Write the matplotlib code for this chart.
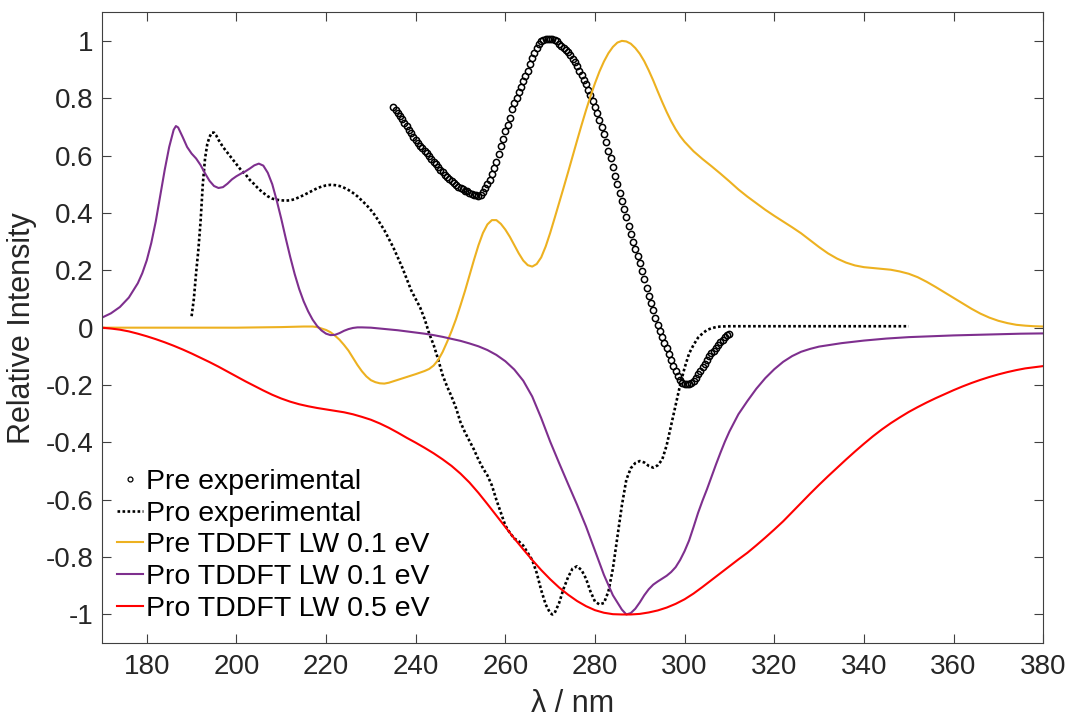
import numpy as np
import matplotlib
matplotlib.use('Agg')
import matplotlib.pyplot as plt
from matplotlib.ticker import FuncFormatter

plt.rcParams['font.family'] = ['Liberation Sans', 'DejaVu Sans']
plt.rcParams['axes.unicode_minus'] = False

# Pre experimental (open circles)
pre_exp_x = np.arange(235.0, 310.01, 0.5)
pre_exp_y = [
    0.770, 0.758, 0.748, 0.738, 0.726, 0.714, 0.702, 0.690, 0.678, 0.666,
    0.656, 0.645, 0.634, 0.626, 0.617, 0.608, 0.598, 0.588, 0.578, 0.569,
    0.560, 0.551, 0.542, 0.534, 0.525, 0.517, 0.510, 0.503, 0.497, 0.491,
    0.486, 0.482, 0.478, 0.475, 0.471, 0.467, 0.463, 0.461, 0.460, 0.463,
    0.474, 0.488, 0.502, 0.515, 0.535, 0.556, 0.578, 0.604, 0.632, 0.658,
    0.684, 0.708, 0.732, 0.764, 0.783, 0.800, 0.821, 0.840, 0.860, 0.876,
    0.895, 0.918, 0.940, 0.958, 0.975, 0.988, 0.998, 1.004, 1.006, 1.007,
    1.006, 1.005, 1.003, 0.998, 0.990, 0.982, 0.975, 0.968, 0.960, 0.951,
    0.938, 0.925, 0.912, 0.896, 0.880, 0.864, 0.848, 0.830, 0.810, 0.790,
    0.770, 0.748, 0.725, 0.700, 0.674, 0.646, 0.617, 0.590, 0.560, 0.530,
    0.500, 0.470, 0.442, 0.414, 0.386, 0.356, 0.328, 0.300, 0.275, 0.250,
    0.224, 0.196, 0.168, 0.140, 0.112, 0.085, 0.060, 0.035, 0.010, -0.012,
    -0.032, -0.052, -0.072, -0.092, -0.112, -0.132, -0.150, -0.168, -0.182, -0.192,
    -0.196, -0.198, -0.197, -0.192, -0.185, -0.175, -0.163, -0.150, -0.138, -0.126,
    -0.113, -0.100, -0.090, -0.080, -0.070, -0.060, -0.050, -0.042, -0.034, -0.027,
    -0.022,
]

# Pro experimental (dotted line)
pro_exp_x = [190.0, 190.5, 191.0, 191.5, 192.0, 192.5, 193.0, 193.5, 194.0, 194.5,
             195.0, 195.5, 196, 197, 198, 199, 200, 201, 202, 203, 204, 205, 206,
             207, 208, 209, 210, 211, 212, 213, 214, 215, 216, 217, 218, 219, 220,
             221, 222, 223, 224, 225, 226, 227, 228, 229, 230, 231, 232, 233, 234,
             235, 236, 237, 238, 239, 240, 241, 242, 243, 244, 245, 246, 247, 248,
             249, 250, 251, 252, 253, 254, 255, 256, 257, 258, 259, 260, 261, 262,
             263, 264, 265, 266, 267, 268, 269, 270, 270.5, 271, 272, 273, 274, 275,
             276, 277, 278, 279, 280, 281, 282, 283, 284, 285, 286, 287, 288, 289,
             290, 291, 292, 293, 294, 295, 296, 297, 298, 299, 300, 301, 302, 303,
             304, 305, 306, 307, 308, 310, 320, 330, 340, 350]
pro_exp_y = [0.04, 0.10, 0.19, 0.27, 0.37, 0.50, 0.59, 0.64, 0.665, 0.68,
             0.68, 0.67, 0.655, 0.63, 0.61, 0.59, 0.57, 0.55, 0.535, 0.515, 0.50, 0.483, 0.47,
             0.458, 0.45, 0.446, 0.444, 0.443, 0.444, 0.448, 0.455, 0.462, 0.47, 0.478, 0.486, 0.492, 0.496,
             0.498, 0.497, 0.494, 0.488, 0.48, 0.47, 0.458, 0.443, 0.428, 0.41, 0.39, 0.365, 0.34, 0.31,
             0.28, 0.245, 0.21, 0.17, 0.13, 0.10, 0.07, 0.03, -0.02, -0.06, -0.11, -0.165, -0.205, -0.24,
             -0.28, -0.33, -0.365, -0.395, -0.425, -0.46, -0.49, -0.515, -0.55, -0.60, -0.645, -0.69, -0.715, -0.735,
             -0.745, -0.76, -0.785, -0.81, -0.855, -0.915, -0.965, -0.995, -1.0, -0.995, -0.96, -0.91, -0.87, -0.84,
             -0.832, -0.845, -0.875, -0.92, -0.955, -0.965, -0.96, -0.92, -0.84, -0.73, -0.62, -0.53, -0.49, -0.472,
             -0.465, -0.47, -0.482, -0.488, -0.48, -0.46, -0.41, -0.34, -0.27, -0.20, -0.14, -0.09, -0.06, -0.035,
             -0.02, -0.008, -0.002, 0.002, 0.004, 0.005, 0.005, 0.005, 0.005, 0.005]

# Pre TDDFT LW 0.1 eV
pre_td_x = [170, 180, 190, 200, 210, 215, 217, 218, 219, 220, 221, 222, 223, 224, 225,
            226, 227, 228, 229, 230, 231, 232, 233, 234, 235, 236, 238, 240, 242, 243,
            244, 245, 246, 247, 248, 249, 250, 251, 252, 253, 254, 255, 256, 257, 258,
            259, 260, 261, 262, 263, 264, 265, 266, 267, 268, 269, 270, 271, 272, 273,
            274, 275, 276, 277, 278, 279, 280, 281, 282, 283, 284, 285, 286, 287, 288,
            289, 290, 291, 292, 293, 294, 295, 296, 297, 298, 299, 300, 302, 304, 306,
            308, 310, 312, 314, 316, 318, 320, 322, 324, 326, 328, 330, 332, 334, 336,
            338, 340, 342, 344, 346, 348, 350, 352, 354, 356, 358, 360, 362, 364, 366,
            368, 370, 372, 374, 376, 378, 380]
pre_td_y = [0.0, 0.0, 0.0, 0.0, 0.002, 0.004, 0.004, 0.002, -0.003, -0.008, -0.016, -0.028, -0.042, -0.06, -0.08,
            -0.105, -0.13, -0.152, -0.17, -0.183, -0.19, -0.194, -0.195, -0.192, -0.187, -0.182, -0.172, -0.162, -0.151, -0.144,
            -0.132, -0.113, -0.085, -0.05, -0.012, 0.03, 0.078, 0.128, 0.182, 0.236, 0.287, 0.33, 0.36, 0.375, 0.375,
            0.362, 0.342, 0.317, 0.288, 0.259, 0.234, 0.218, 0.213, 0.222, 0.245, 0.283, 0.33, 0.382, 0.435, 0.488,
            0.542, 0.597, 0.652, 0.706, 0.758, 0.807, 0.852, 0.893, 0.928, 0.957, 0.979, 0.994, 1.0, 0.998, 0.99,
            0.975, 0.955, 0.929, 0.897, 0.862, 0.824, 0.787, 0.752, 0.72, 0.692, 0.668, 0.648, 0.615, 0.588, 0.563,
            0.537, 0.51, 0.482, 0.457, 0.434, 0.411, 0.39, 0.37, 0.35, 0.329, 0.305, 0.281, 0.259, 0.241, 0.227,
            0.217, 0.211, 0.208, 0.205, 0.202, 0.196, 0.188, 0.176, 0.16, 0.142, 0.123, 0.104, 0.085, 0.066, 0.049,
            0.035, 0.024, 0.016, 0.01, 0.007, 0.005, 0.004]

# Pro TDDFT LW 0.1 eV
pro_td1_x = [170, 172, 174, 176, 178, 179, 180, 181, 182, 183, 184, 185, 186, 186.5, 187,
             188, 189, 190, 191, 192, 193, 194, 195, 196, 197, 198, 199, 200, 201, 202,
             203, 204, 205, 206, 207, 208, 209, 210, 211, 212, 213, 214, 215, 216, 217,
             218, 219, 220, 221, 222, 223, 224, 225, 226, 227, 228, 230, 232, 234, 236,
             238, 240, 242, 244, 246, 248, 250, 252, 254, 256, 258, 260, 262, 264, 266,
             268, 270, 272, 274, 276, 278, 280, 282, 284, 286, 287, 288, 289, 290, 291,
             292, 293, 294, 295, 296, 297, 298, 299, 300, 301, 302, 303, 304, 305, 306,
             307, 308, 309, 310, 312, 314, 316, 318, 320, 322, 324, 326, 328, 330, 335,
             340, 345, 350, 355, 360, 365, 370, 375, 380]
pro_td1_y = [0.035, 0.05, 0.072, 0.105, 0.155, 0.19, 0.235, 0.295, 0.37, 0.46, 0.55, 0.63, 0.69, 0.703, 0.698,
             0.665, 0.63, 0.607, 0.59, 0.567, 0.538, 0.512, 0.494, 0.487, 0.49, 0.502, 0.517, 0.528, 0.537, 0.545,
             0.555, 0.566, 0.572, 0.565, 0.54, 0.50, 0.443, 0.38, 0.312, 0.247, 0.187, 0.135, 0.092, 0.057, 0.028,
             0.006, -0.01, -0.021, -0.026, -0.025, -0.019, -0.011, -0.005, -0.001, 0.001, 0.001, 0.0, -0.003, -0.006, -0.009,
             -0.013, -0.017, -0.021, -0.026, -0.032, -0.039, -0.046, -0.055, -0.065, -0.078, -0.095, -0.117, -0.146, -0.185, -0.24,
             -0.315, -0.397, -0.472, -0.545, -0.617, -0.693, -0.778, -0.862, -0.933, -0.983, -1.0, -0.995, -0.98, -0.958, -0.933,
             -0.912, -0.896, -0.885, -0.875, -0.865, -0.852, -0.835, -0.81, -0.779, -0.742, -0.695, -0.646, -0.603, -0.563, -0.52,
             -0.477, -0.436, -0.397, -0.362, -0.302, -0.256, -0.213, -0.176, -0.145, -0.119, -0.099, -0.084, -0.074, -0.066, -0.054,
             -0.045, -0.038, -0.033, -0.03, -0.027, -0.025, -0.023, -0.021, -0.02]

# Pro TDDFT LW 0.5 eV
pro_td5_x = [170, 172, 174, 176, 178, 180, 182, 184, 186, 188, 190, 192, 194, 196, 198,
             200, 202, 204, 206, 208, 210, 212, 214, 216, 218, 220, 222, 224, 226, 228,
             230, 232, 234, 236, 238, 240, 242, 244, 246, 248, 250, 252, 254, 256, 258,
             260, 262, 264, 266, 268, 270, 272, 274, 276, 278, 280, 282, 284, 286, 288,
             290, 292, 294, 296, 298, 300, 302, 304, 306, 308, 310, 312, 314, 316, 318,
             320, 322, 324, 326, 328, 330, 332, 334, 336, 338, 340, 342, 344, 346, 348,
             350, 352, 354, 356, 358, 360, 362, 364, 366, 368, 370, 372, 374, 376, 378, 380]
pro_td5_y = [0.0, -0.003, -0.007, -0.013, -0.021, -0.03, -0.04, -0.051, -0.063, -0.076, -0.09, -0.105, -0.12, -0.136, -0.153,
             -0.17, -0.187, -0.203, -0.219, -0.234, -0.247, -0.258, -0.267, -0.274, -0.28, -0.285, -0.29, -0.295, -0.302, -0.311,
             -0.321, -0.334, -0.349, -0.366, -0.384, -0.401, -0.419, -0.438, -0.459, -0.482, -0.509, -0.54, -0.576, -0.615, -0.655,
             -0.695, -0.735, -0.773, -0.81, -0.845, -0.877, -0.906, -0.931, -0.953, -0.971, -0.985, -0.994, -0.999, -1.0, -1.0,
             -0.998, -0.993, -0.986, -0.976, -0.963, -0.947, -0.927, -0.904, -0.88, -0.856, -0.832, -0.808, -0.785, -0.759, -0.732,
             -0.704, -0.675, -0.643, -0.611, -0.579, -0.548, -0.518, -0.489, -0.46, -0.432, -0.405, -0.379, -0.355, -0.333, -0.313,
             -0.294, -0.277, -0.261, -0.246, -0.232, -0.218, -0.205, -0.193, -0.182, -0.172, -0.163, -0.155, -0.148, -0.142, -0.138, -0.134]

fig = plt.figure(figsize=(10.71, 7.17), dpi=100)
ax = fig.add_axes([0.0952, 0.103, 0.8788, 0.880])

ax.plot(pre_exp_x, pre_exp_y, linestyle='none', marker='o', markersize=4.5,
        markerfacecolor='none', markeredgecolor='black', markeredgewidth=1.1,
        label='Pre experimental')
ax.plot(pro_exp_x, pro_exp_y, linestyle=(0, (1.0, 0.9)), color='black', linewidth=1.9,
        label='Pro experimental')
ax.plot(pre_td_x, pre_td_y, color='#EDB120', linewidth=1.5, label='Pre TDDFT LW 0.1 eV')
ax.plot(pro_td1_x, pro_td1_y, color='#7E2F8E', linewidth=1.5, label='Pro TDDFT LW 0.1 eV')
ax.plot(pro_td5_x, pro_td5_y, color='#FF0000', linewidth=1.5, label='Pro TDDFT LW 0.5 eV')

ax.set_xlim(170, 380)
ax.set_ylim(-1.1, 1.1)
ax.set_xticks(np.arange(180, 381, 20))
ax.set_yticks(np.arange(-1.0, 1.01, 0.2))
ax.yaxis.set_major_formatter(FuncFormatter(lambda v, p: f'{round(v, 1):g}' if abs(v) > 1e-9 else '0'))

ax.tick_params(direction='in', length=6.3, width=0.8, top=True, right=True,
               labelsize=20, colors='#404040', labelcolor='#262626')
ax.tick_params(axis='y', pad=6)
ax.tick_params(axis='x', pad=8)
for s in ax.spines.values():
    s.set_color('#404040')
    s.set_linewidth(0.8)

ax.set_xlabel('λ / nm', fontsize=22, color='#262626', labelpad=6)
ax.set_ylabel('Relative Intensity', fontsize=22, color='#262626', labelpad=6)

leg = ax.legend(loc='lower left', bbox_to_anchor=(0.004, 0.016), frameon=False,
                fontsize=20.5, labelspacing=0.2, handlelength=0.9, handletextpad=0.1,
                borderaxespad=0, numpoints=1)
leg.legend_handles[0].set_markersize(3.5)
leg.legend_handles[0].set_markeredgewidth(0.9)

fig.savefig('out.png', dpi=100)
